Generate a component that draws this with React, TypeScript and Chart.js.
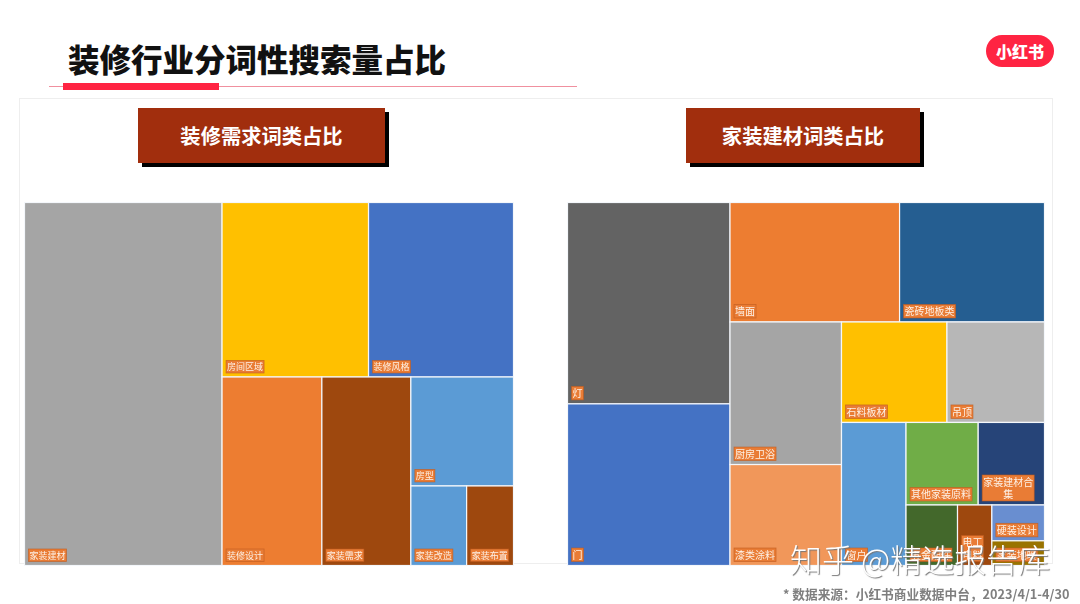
import React, { useRef, useEffect } from 'react';
import { Chart, DatasetController, Element } from 'chart.js/auto';

const demandLabels = ['家装建材', '房间区域', '装修风格', '装修设计', '家装需求', '房型', '家装改造', '家装布置'];
const demandValues = [40.4, 14.4, 14.25, 10.6, 9.45, 6.3, 2.5, 2.1];
const demandColors = ['#A5A5A5', '#FFC000', '#4472C4', '#ED7D31', '#9E480E', '#5B9BD5', '#5B9BD5', '#9E480E'];

const materialLabels = ['灯', '门', '墙面', '瓷砖地板类', '厨房卫浴', '漆类涂料', '石料板材', '吊顶', '窗户', '其他家装原料', '家装建材合集', '五金配件', '电工电料', '硬装设计', '家装地暖'];
const materialValues = [18.9, 15.17, 11.7, 10.0, 9.18, 6.5, 6.12, 5.66, 5.33, 3.44, 3.16, 1.8, 1.2, 1.09, 0.75];
const materialColors = ['#636363', '#4472C4', '#ED7D31', '#255E91', '#A5A5A5', '#F1975A', '#FFC000', '#B7B7B7', '#5B9BD5', '#70AD47', '#264478', '#43682B', '#9E480E', '#698ED0', '#997300'];

// how the tiles nest: 'r' = side by side, 'c' = stacked, numbers are indexes in the value lists
type TreeNode = number | ['r' | 'c', ...TreeNode[]];

const demandTree: TreeNode = ['r', 0, ['c', ['r', 1, 2], ['r', 3, 4, ['c', 5, ['r', 6, 7]]]]];
const materialTree: TreeNode = ['r', ['c', 0, 1], ['c', ['r', 2, 3], ['r', ['c', 4, 5], ['c', ['r', 6, 7], ['r', 8, ['c', ['r', 9, 10], ['r', 11, 12, ['c', 13, 14]]]]]]]];

const sumNode = (node: TreeNode, values: number[]): number =>
  typeof node === 'number' ? values[node] : node.slice(1).reduce((s: number, n: any) => s + sumNode(n, values), 0);

// walk the tree and give every value its share of the parent box
const sliceNode = (node: TreeNode, values: number[], box: number[], out: number[][]) => {
  if (typeof node === 'number') {
    out[node] = box;
    return;
  }
  const [x0, y0, x1, y1] = box;
  const total = sumNode(node, values);
  let pos = 0;
  node.slice(1).forEach((n: any) => {
    const a = pos / total;
    pos += sumNode(n, values);
    const b = pos / total;
    const next = node[0] === 'r'
      ? [x0 + (x1 - x0) * a, y0, x0 + (x1 - x0) * b, y1]
      : [x0, y0 + (y1 - y0) * a, x1, y0 + (y1 - y0) * b];
    sliceNode(n, values, next, out);
  });
};

const splitLines = (ctx: CanvasRenderingContext2D, text: string, maxWidth: number) => {
  const lines: string[] = [];
  let line = '';
  for (const ch of text) {
    if (line && ctx.measureText(line + ch).width > maxWidth) {
      lines.push(line);
      line = ch;
    } else {
      line += ch;
    }
  }
  lines.push(line);
  return lines;
};

class TileElement extends Element {
  static id = 'tile';
  static defaults = {};

  draw(ctx: CanvasRenderingContext2D) {
    const { x, y, w, h, color, label, fontSize } = this as any;
    ctx.save();
    ctx.fillStyle = color;
    ctx.fillRect(x, y, w, h);
    ctx.strokeStyle = '#F4F7FB';
    ctx.lineWidth = 1.2;
    ctx.strokeRect(x, y, w, h);

    ctx.font = `${fontSize}px "Noto Sans CJK SC"`;
    ctx.textBaseline = 'middle';
    ctx.textAlign = 'center';
    const lines = splitLines(ctx, label, w - 10);
    const boxW = Math.max(...lines.map((l) => ctx.measureText(l).width)) + 2;
    const lineH = fontSize + 2.5;
    const boxH = lines.length * lineH + 1;
    const boxX = x + Math.min(4, (w - boxW) / 2);
    const boxY = y + h - 4 - boxH;
    ctx.fillStyle = '#E97C35';
    ctx.fillRect(boxX, boxY, boxW, boxH);
    ctx.strokeStyle = 'rgba(190, 90, 30, 0.7)';
    ctx.lineWidth = 0.8;
    ctx.strokeRect(boxX, boxY, boxW, boxH);
    ctx.fillStyle = '#FDF1E6';
    lines.forEach((l, i) => ctx.fillText(l, boxX + boxW / 2, boxY + 0.5 + lineH * (i + 0.5)));
    ctx.restore();
  }
}

class TreemapController extends DatasetController {
  static id = 'treemap';
  static defaults = { datasetElementType: false, dataElementType: 'tile' };

  parse() {}

  update() {
    const meta: any = this.getMeta();
    const dataset: any = this.getDataset();
    const labels = this.chart.data.labels as string[];
    const { x: xScale, y: yScale } = this.chart.scales;
    const boxes: number[][] = [];
    sliceNode(dataset.tree, dataset.data, [0, 0, 1, 1], boxes);
    meta.data.forEach((el: any, i: number) => {
      const [x0, y0, x1, y1] = boxes[i];
      const left = xScale.getPixelForValue(x0);
      const top = yScale.getPixelForValue(y0);
      Object.assign(el, {
        x: left,
        y: top,
        w: xScale.getPixelForValue(x1) - left,
        h: yScale.getPixelForValue(y1) - top,
        color: dataset.backgroundColor[i],
        label: labels[i],
        fontSize: dataset.fontSize,
      });
    });
  }
}

Chart.register(TileElement as any, TreemapController as any);

interface TreemapProps {
  labels: string[];
  values: number[];
  colors: string[];
  tree: TreeNode;
  fontSize: number;
  left: number;
  width: number;
}

const Treemap: React.FC<TreemapProps> = ({ labels, values, colors, tree, fontSize, left, width }) => {
  const chartRef = useRef<HTMLCanvasElement | null>(null);

  useEffect(() => {
    const chart = new Chart(chartRef.current as any, {
      type: 'treemap' as any,
      data: {
        labels,
        datasets: [{ data: values, backgroundColor: colors, tree, fontSize } as any],
      },
      options: {
        animation: false,
        responsive: false,
        events: [],
        layout: { padding: 0.5 },
        plugins: { legend: { display: false }, tooltip: { enabled: false } },
        scales: {
          x: { type: 'linear', min: 0, max: 1, display: false },
          y: { type: 'linear', min: 0, max: 1, reverse: true, display: false },
        },
      } as any,
    });
    return () => chart.destroy();
  }, [labels, values, colors, tree, fontSize]);

  return (
    <canvas
      ref={chartRef}
      width={width}
      height={364}
      style={{ position: 'absolute', left, top: 202, width, height: 364 }}
    />
  );
};

const font = '"Noto Sans CJK SC", "Noto Sans", sans-serif';

const SectionTitle: React.FC<{ text: string; left: number; width: number }> = ({ text, left, width }) => (
  <div
    style={{
      position: 'absolute', left, top: 108, width, height: 55,
      background: '#A12E0D', boxShadow: '4px 4px 0 #000',
      color: '#FFF', font: `700 20.3px ${font}`, lineHeight: '55px', textAlign: 'center',
    }}
  >
    {text}
  </div>
);

const App: React.FC = () => {
  useEffect(() => {
    document.body.style.margin = '0';
  }, []);

  return (
    <div style={{ position: 'fixed', left: 0, top: 0, width: 1080, height: 604, overflow: 'hidden', background: '#FFF', filter: 'blur(0.45px)', fontFamily: font }}>
      <div style={{ position: 'absolute', left: 68, top: 34, font: `900 31.5px ${font}`, lineHeight: '48px', color: '#111', whiteSpace: 'nowrap' }}>
        装修行业分词性搜索量占比
      </div>
      <div style={{ position: 'absolute', left: 49, top: 86, width: 528, height: 1, background: '#F0909F' }} />
      <div style={{ position: 'absolute', left: 63, top: 83, width: 156, height: 7, background: '#FF2442' }} />
      <div style={{ position: 'absolute', left: 986, top: 35, width: 68, height: 32, borderRadius: 16, background: '#FF2442', color: '#FFF', font: `900 16px ${font}`, lineHeight: '32px', textAlign: 'center' }}>
        小红书
      </div>

      <div style={{ position: 'absolute', left: 19, top: 98, width: 1032, height: 464, border: '1px solid #EEE', boxSizing: 'content-box' }} />
      <SectionTitle text="装修需求词类占比" left={138} width={247} />
      <SectionTitle text="家装建材词类占比" left={686} width={234} />

      <Treemap labels={demandLabels} values={demandValues} colors={demandColors} tree={demandTree} fontSize={9} left={24} width={490} />
      <Treemap labels={materialLabels} values={materialValues} colors={materialColors} tree={materialTree} fontSize={10} left={567} width={478} />

      <div style={{ position: 'absolute', left: 790, top: 535, font: `300 32px ${font}`, lineHeight: '46px', color: '#FFF', textShadow: '1px 1px 1px #777', whiteSpace: 'nowrap' }}>
        知乎 @精选报告库
      </div>
      <div style={{ position: 'absolute', left: 783, top: 585, font: `700 12.7px ${font}`, lineHeight: '18px', color: '#7F7F7F', whiteSpace: 'nowrap' }}>
        * 数据来源：小红书商业数据中台，2023/4/1-4/30
      </div>
    </div>
  );
};

export default App;
